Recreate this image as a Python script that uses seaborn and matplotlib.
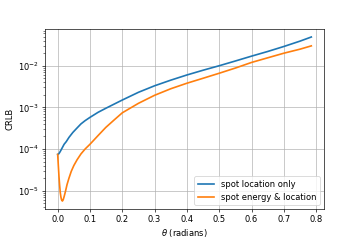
import numpy as np
import pandas as pd
import seaborn as sns
import matplotlib
matplotlib.use("Agg")
import matplotlib.pyplot as plt

# values (log scale)
theta_loc = [0.0, 0.003, 0.006, 0.01, 0.015, 0.02, 0.0265, 0.035, 0.047, 0.06,
             0.072, 0.085, 0.1, 0.125, 0.149, 0.175, 0.2, 0.25, 0.3, 0.35,
             0.4, 0.45, 0.5, 0.55, 0.6, 0.65, 0.7, 0.75, 0.785]
crlb_location = [7.4e-5, 7.6e-5, 8.2e-5, 9.3e-5, 1.1e-4, 1.3e-4, 1.5e-4, 1.9e-4,
                 2.5e-4, 3.2e-4, 4.0e-4, 4.8e-4, 5.75e-4, 7.6e-4, 9.5e-4, 1.2e-3,
                 1.5e-3, 2.3e-3, 3.3e-3, 4.5e-3, 6.0e-3, 7.8e-3, 1.0e-2, 1.3e-2,
                 1.7e-2, 2.2e-2, 2.9e-2, 3.9e-2, 4.9e-2]

theta_both = [0.0, 0.002, 0.004, 0.006, 0.008, 0.01, 0.012, 0.0145, 0.017, 0.02,
              0.024, 0.029, 0.035, 0.042, 0.05, 0.06, 0.072, 0.085, 0.1, 0.125,
              0.149, 0.175, 0.2, 0.25, 0.3, 0.35, 0.4, 0.45, 0.5, 0.55,
              0.6, 0.65, 0.7, 0.75, 0.785]
crlb_energy_location = [7.4e-5, 4.0e-5, 2.2e-5, 1.35e-5, 9.0e-6, 7.0e-6, 6.0e-6, 5.6e-6,
                        6.0e-6, 7.2e-6, 9.5e-6, 1.4e-5, 2.0e-5, 2.9e-5, 4.0e-5, 5.5e-5,
                        7.6e-5, 1.0e-4, 1.3e-4, 2.1e-4, 3.3e-4, 5.0e-4, 7.4e-4, 1.25e-3,
                        1.95e-3, 2.8e-3, 3.8e-3, 5.0e-3, 6.6e-3, 8.8e-3, 1.2e-2, 1.55e-2,
                        2.0e-2, 2.5e-2, 3.0e-2]
labels = ["spot location only", "spot energy & location"]

df = pd.DataFrame({
    "theta": theta_loc + theta_both,
    "crlb": crlb_location + crlb_energy_location,
    "case": [labels[0]] * len(theta_loc) + [labels[1]] * len(theta_both),
})

fig, ax = plt.subplots(figsize=(6, 4), dpi=60)
fig.subplots_adjust(left=0.125, right=0.9, bottom=0.128, top=0.88)
sns.lineplot(data=df, x="theta", y="crlb", hue="case", hue_order=labels,
             palette=["#1f77b4", "#ff7f0e"], linewidth=2, ax=ax)
ax.set_yscale("log")
ax.grid(True)
ax.set_xlabel(r"$\theta$ (radians)")
ax.set_ylabel("CRLB")
ax.legend(loc="lower right")

fig.savefig("out.png", dpi=60)
